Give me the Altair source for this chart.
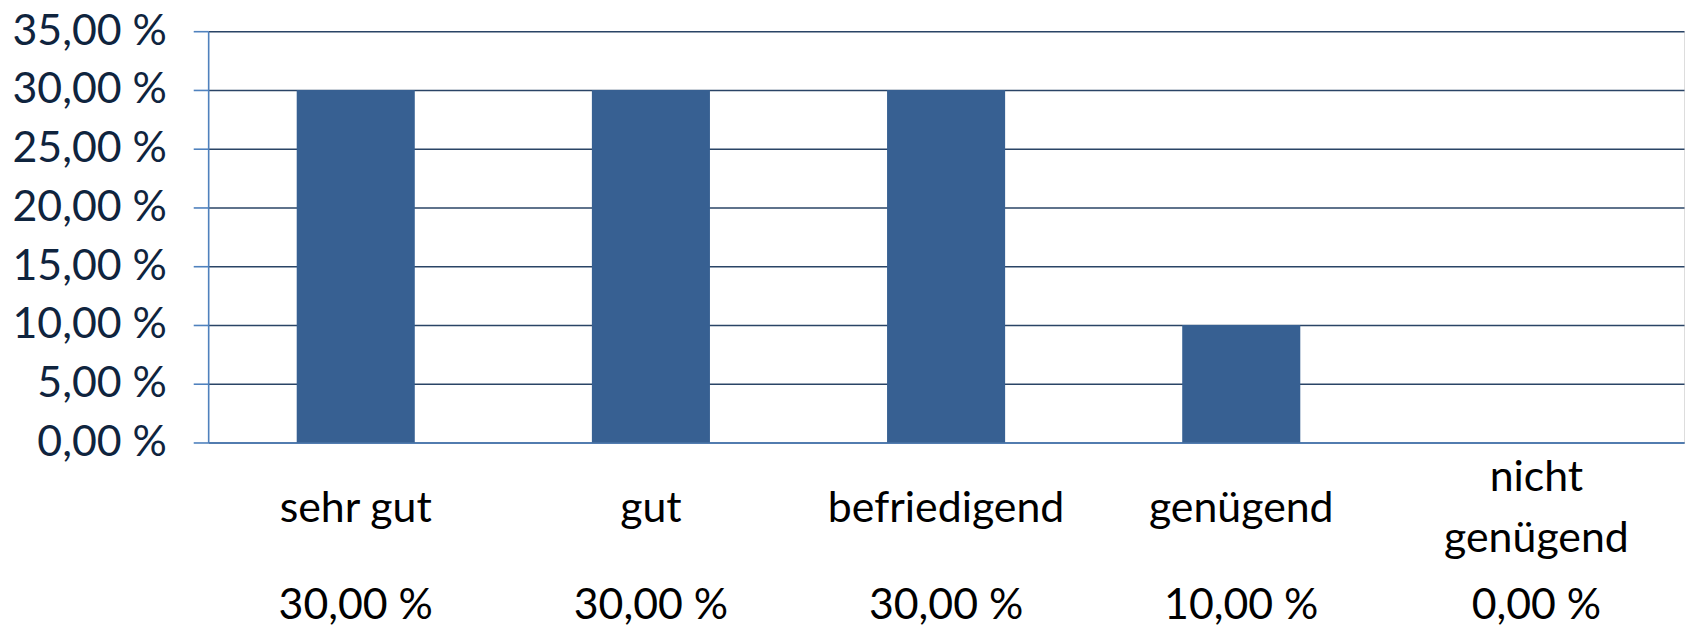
import altair as alt
import pandas as pd

categories = ["sehr gut", "gut", "befriedigend", "genügend", "nicht genügend"]
shares = [30.0, 30.0, 30.0, 10.0, 0.0]
y_ticks = [0, 5, 10, 15, 20, 25, 30, 35]

df = pd.DataFrame({"cat": categories, "share": shares})

W, H = 1482, 413
FONT = "Lato"
FS = 43

x_enc = alt.X(
    "cat:N",
    sort=categories,
    scale=alt.Scale(paddingInner=0.6, paddingOuter=0.3),
    axis=alt.Axis(
        title=None,
        labels=False,
        ticks=False,
        domain=True,
        domainColor="#4f81bd",
        domainWidth=1.6,
        grid=False,
    ),
)

y_enc = alt.Y(
    "share:Q",
    scale=alt.Scale(domain=[0, 35], nice=False),
    axis=alt.Axis(
        title=None,
        values=y_ticks,
        labelExpr="replace(format(datum.value, '.2f'), '.', ',') + ' %'",
        labelFont=FONT,
        labelFontSize=FS,
        labelColor="#0f243e",
        labelPadding=27,
        labelBaseline="middle",
        labelLimit=0,
        tickSize=15,
        tickColor="#4f81bd",
        tickWidth=1.6,
        domainColor="#4f81bd",
        domainWidth=1.6,
        grid=True,
        gridColor="#2a4466",
        gridWidth=1.4,
    ),
)

bars = alt.Chart(df).mark_bar(color="#376092").encode(x=x_enc, y=y_enc)

base_txt = alt.Chart(df).transform_calculate(
    lines="split(datum.cat, ' ')",
)

# category names on one line
single = (
    base_txt.transform_filter("datum.cat.length < 14")
    .mark_text(font=FONT, fontSize=FS, color="#000000", baseline="alphabetic", align="center")
    .encode(x=alt.X("cat:N", sort=categories), y=alt.value(H + 80), text="cat:N")
)

# long category name wrapped on two lines
double = (
    base_txt.transform_filter("datum.cat.length >= 14")
    .mark_text(font=FONT, fontSize=FS, color="#000000", baseline="alphabetic",
               align="center", lineHeight=61)
    .encode(x=alt.X("cat:N", sort=categories), y=alt.value(H + 49), text="lines:N")
)

values = (
    alt.Chart(df)
    .transform_calculate(lbl="replace(format(datum.share, '.2f'), '.', ',') + ' %'")
    .mark_text(font=FONT, fontSize=FS, color="#000000", baseline="alphabetic", align="center")
    .encode(
        x=alt.X("cat:N", sort=categories),
        y=alt.value(H + 177),
        text="lbl:N",
    )
)

chart = (
    alt.layer(bars, single, double, values)
    .properties(
        width=W,
        height=H,
        autosize=alt.AutoSizeParams(type="none"),
        padding={"left": 201, "top": 22, "right": 2, "bottom": 186},
    )
    .configure_view(stroke="#2f4a6e", strokeWidth=1.4)
    .configure(background="white")
)

chart.save("out.html", embed_options={"renderer": "svg", "actions": False})
